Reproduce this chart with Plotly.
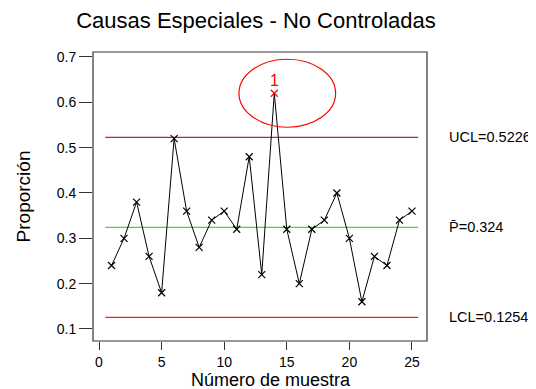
import plotly.graph_objects as go

muestra = list(range(1, 26))
proporcion = [0.24, 0.30, 0.38, 0.26, 0.18, 0.52, 0.36, 0.28, 0.34, 0.36,
              0.32, 0.48, 0.22, 0.62, 0.32, 0.20, 0.32, 0.34, 0.40, 0.30,
              0.16, 0.26, 0.24, 0.34, 0.36]
UCL = 0.5226
PBAR = 0.324
LCL = 0.1254
out_idx = [13]  # sample 14
x_ticks = [0, 5, 10, 15, 20, 25]
y_ticks = [0.1, 0.2, 0.3, 0.4, 0.5, 0.6, 0.7]

FONT = "Liberation Sans, Arial"
W, H = 536, 389
fig = go.Figure()

x0, x1 = muestra[0] - 0.5, muestra[-1] + 0.5
for val, col in [(UCL, "#e01a1a"), (PBAR, "#33e033"), (LCL, "#ff2020")]:
    fig.add_trace(go.Scatter(x=[x0, x1], y=[val, val], mode="lines",
                             line=dict(color=col, width=1.2), hoverinfo="skip"))

mcolors = ["red" if i in out_idx else "black" for i in range(len(muestra))]
fig.add_trace(go.Scatter(x=muestra, y=proporcion, mode="lines+markers",
                         line=dict(color="black", width=1),
                         marker=dict(symbol="x-thin-open", size=7, color=mcolors,
                                     line=dict(color=mcolors, width=1.2))))

for i in out_idx:
    px, py = muestra[i], proporcion[i]
    fig.add_shape(type="circle", xref="x", yref="y",
                  x0=px - 2.82, x1=px + 4.9, y0=py - 0.075, y1=py + 0.075,
                  line=dict(color="red", width=1.2))
    fig.add_annotation(x=px, y=py, text="1", showarrow=False, yshift=13,
                       font=dict(color="red", size=16, family=FONT))

fig.add_shape(type="rect", xref="x domain", yref="y domain", x0=0, x1=1, y0=0, y1=1,
              line=dict(color="#333333", width=1.2))

for val, txt in [(UCL, "UCL=0.5226"), (PBAR, "P\u0304=0.324"), (LCL, "LCL=0.1254")]:
    fig.add_annotation(xref="paper", yref="y", x=1.06, y=val, xanchor="left",
                       text=txt, showarrow=False,
                       font=dict(size=14.5, color="black", family=FONT))

fig.add_annotation(xref="paper", yref="paper", x=(271 - 93) / 334, y=-0.1335,
                   xanchor="center", yanchor="middle", showarrow=False,
                   text="Número de muestra", font=dict(size=18, family=FONT))

fig.update_layout(
    width=W, height=H,
    margin=dict(l=85, r=117, t=44, b=56, autoexpand=False),
    paper_bgcolor="white", plot_bgcolor="white",
    showlegend=False,
    font=dict(family=FONT, color="black", size=14),
    title=dict(text="Causas Especiales - No Controladas", x=248/W, xanchor="center",
               y=1 - 12/H, yanchor="middle", font=dict(size=22)),
)
fig.update_xaxes(range=[-0.48, 26.2], tickvals=x_ticks, ticks="outside", ticklen=8,
                 tickcolor="#333333", showgrid=False, zeroline=False, showline=False,
                 automargin=False)
fig.update_yaxes(range=[0.0735, 0.711], tickvals=y_ticks, ticks="outside", ticklen=13,
                 tickcolor="#333333", showgrid=False, zeroline=False, showline=False,
                 automargin=False,
                 title=dict(text="Proporción", standoff=21, font=dict(size=19)))

fig.write_html("out.html")
